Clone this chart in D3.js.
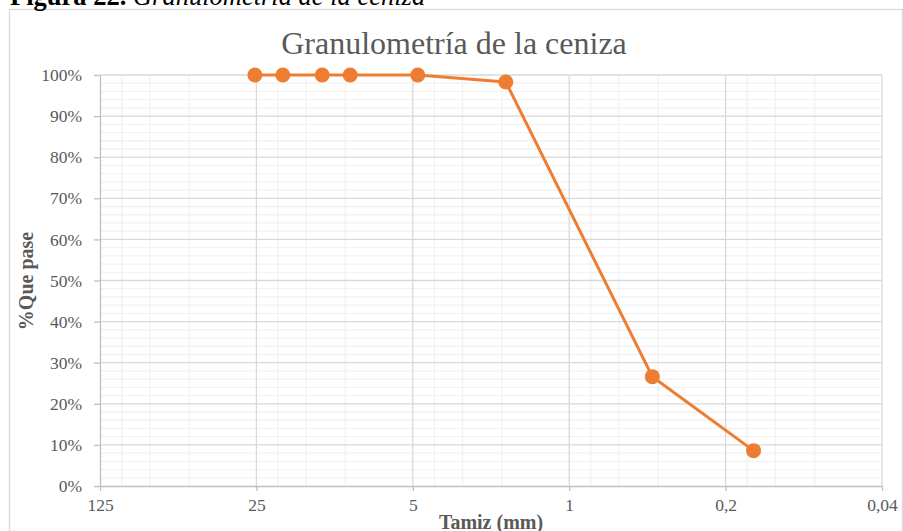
<!DOCTYPE html>
<html lang="es">
<head>
  <meta charset="UTF-8">
  <title>Granulometría de la ceniza</title>
  <style>
    body{ margin:0; background:#fff; }
    svg{ display:block; font-family:"Liberation Serif","Times New Roman",serif; }
    .grid-minor line{ stroke:#f2f2f2; stroke-width:1.3px; }
    .grid-major line{ stroke:#d9d9d9; stroke-width:1.3px; }
    .axis path, .axis line{ stroke:#bfbfbf; stroke-width:1.3px; }
    .axis text{ fill:#595959; font-size:17.5px; font-family:"Liberation Serif",serif; }
  </style>
</head>
<body>
<svg id="chart" width="903" height="531"></svg>

<script src="https://cdn.jsdelivr.net/npm/d3@7"></script>
<script>
  "use strict";

  // tamiz (mm) y % que pasa
  var sizes = [25.4, 19.05, 12.7, 9.525, 4.75, 1.92, 0.425, 0.15];
  var passing = [1.00, 1.00, 1.00, 1.00, 1.00, 0.983, 0.266, 0.086];

  var xTicks = [125, 25, 5, 1, 0.2, 0.04];
  var xTickLabels = ["125", "25", "5", "1", "0,2", "0,04"];
  var yTicks = [0, 0.1, 0.2, 0.3, 0.4, 0.5, 0.6, 0.7, 0.8, 0.9, 1.0];
  var yTickLabels = ["0%", "10%", "20%", "30%", "40%", "50%", "60%", "70%", "80%", "90%", "100%"];
  var minorMult = [2, 3, 4];

  var svg = d3.select("#chart");

  var x = d3.scaleLog().base(5).domain([125, 0.04]).range([100, 882]);
  var y = d3.scaleLinear().domain([0, 1]).range([486, 75]);

  // marco del gráfico
  svg.append("rect")
    .attr("x", 9.5).attr("y", 9.5)
    .attr("width", 893).attr("height", 530)
    .attr("fill", "none").attr("stroke", "#d9d9d9").attr("stroke-width", 1.3);

  // leyenda de la figura (cortada arriba)
  var cap = svg.append("text")
    .attr("x", 10).attr("y", 5)
    .style("font-size", "26.5px")
    .style("fill", "#000");
  cap.append("tspan").style("font-weight", "bold").text("Figura 22. ");
  cap.append("tspan").style("font-style", "italic").text("Granulometría de la ceniza");

  // rejilla menor
  var minorX = [];
  for (var i = 1; i < xTicks.length; i++) {
    minorMult.forEach(function(m){ minorX.push(xTicks[i] * m); });
  }
  var minorY = d3.range(0, 51).map(function(d){ return d / 50; })
    .filter(function(d, i){ return i % 5 !== 0; });

  var gMinor = svg.append("g").attr("class", "grid-minor");
  gMinor.selectAll("line.v").data(minorX).enter().append("line")
    .attr("class", "v")
    .attr("x1", function(d){ return x(d); }).attr("x2", function(d){ return x(d); })
    .attr("y1", y(0)).attr("y2", y(1));
  gMinor.selectAll("line.h").data(minorY).enter().append("line")
    .attr("class", "h")
    .attr("y1", function(d){ return y(d); }).attr("y2", function(d){ return y(d); })
    .attr("x1", x(125)).attr("x2", x(0.04));

  // rejilla mayor
  var gMajor = svg.append("g").attr("class", "grid-major");
  gMajor.selectAll("line.v").data(xTicks.slice(1)).enter().append("line")
    .attr("class", "v")
    .attr("x1", function(d){ return x(d); }).attr("x2", function(d){ return x(d); })
    .attr("y1", y(0)).attr("y2", y(1));
  gMajor.selectAll("line.h").data(yTicks.slice(1)).enter().append("line")
    .attr("class", "h")
    .attr("y1", function(d){ return y(d); }).attr("y2", function(d){ return y(d); })
    .attr("x1", x(125)).attr("x2", x(0.04));

  // ejes
  svg.append("g")
    .attr("class", "axis")
    .attr("transform", "translate(0," + y(0) + ")")
    .call(d3.axisBottom(x).tickValues(xTicks)
      .tickFormat(function(d, i){ return xTickLabels[i]; })
      .tickSizeInner(5).tickSizeOuter(0).tickPadding(8));

  svg.append("g")
    .attr("class", "axis")
    .attr("transform", "translate(" + x(125) + ",0)")
    .call(d3.axisLeft(y).tickValues(yTicks)
      .tickFormat(function(d, i){ return yTickLabels[i]; })
      .tickSizeInner(6).tickSizeOuter(0).tickPadding(12));

  // título
  svg.append("text")
    .attr("x", 454).attr("y", 54)
    .attr("text-anchor", "middle")
    .style("font-size", "32px")
    .style("fill", "#595959")
    .text("Granulometría de la ceniza");

  // títulos de ejes
  svg.append("text")
    .attr("transform", "translate(33,281) rotate(-90)")
    .attr("text-anchor", "middle")
    .style("font-size", "20px")
    .style("font-weight", "bold")
    .style("fill", "#595959")
    .text("%Que pase");

  svg.append("text")
    .attr("x", 491).attr("y", 529)
    .attr("text-anchor", "middle")
    .style("font-size", "20px")
    .style("font-weight", "bold")
    .style("fill", "#595959")
    .text("Tamiz (mm)");

  // serie
  var pts = sizes.map(function(s, i){ return [s, passing[i]]; });

  svg.append("path")
    .datum(pts)
    .attr("fill", "none")
    .attr("stroke", "#ED7D31")
    .attr("stroke-width", 3)
    .attr("stroke-linejoin", "round")
    .attr("d", d3.line()
      .x(function(d){ return x(d[0]); })
      .y(function(d){ return y(d[1]); }));

  svg.selectAll("circle.pt")
    .data(pts)
    .enter()
    .append("circle")
    .attr("class", "pt")
    .attr("cx", function(d){ return x(d[0]); })
    .attr("cy", function(d){ return y(d[1]); })
    .attr("r", 7.5)
    .attr("fill", "#ED7D31");
</script>
</body>
</html>
